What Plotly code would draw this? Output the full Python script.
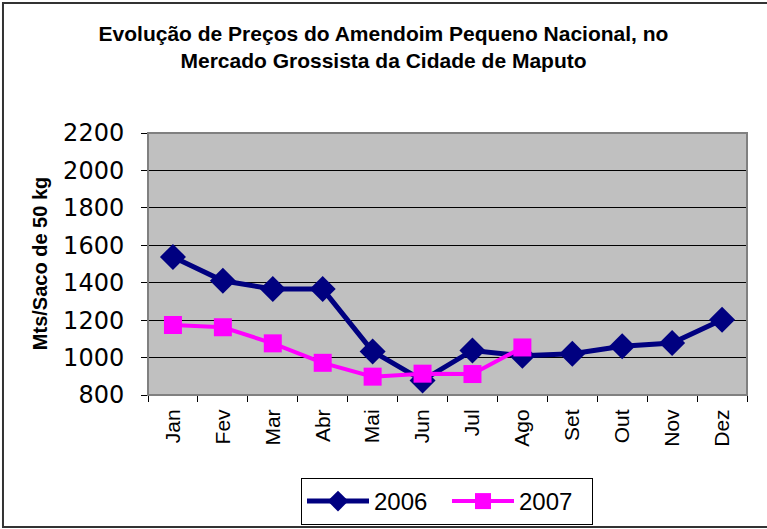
import plotly.graph_objects as go

MONTHS = ['Jan', 'Fev', 'Mar', 'Abr', 'Mai', 'Jun', 'Jul', 'Ago', 'Set', 'Out', 'Nov', 'Dez']
PRICES_2006 = [1538, 1410, 1366, 1366, 1033, 878, 1038, 1010, 1020, 1060, 1078, 1202]
PRICES_2007 = [1174, 1162, 1076, 972, 898, 914, 912, 1054]

NAVY = '#000080'
MAGENTA = '#FF00FF'
FONT = 'Liberation Sans, Arial, sans-serif'

fig = go.Figure()
fig.add_trace(go.Scatter(x=MONTHS, y=PRICES_2006, name='2006', mode='lines+markers',
                         line={'color': NAVY, 'width': 5},
                         marker={'symbol': 'diamond', 'size': 20, 'color': NAVY}))
fig.add_trace(go.Scatter(x=MONTHS[:len(PRICES_2007)], y=PRICES_2007, name='2007', mode='lines+markers',
                         line={'color': MAGENTA, 'width': 4},
                         marker={'symbol': 'square', 'size': 18, 'color': MAGENTA}))

fig.update_layout(
    width=767, height=529,
    margin={'l': 148, 'r': 20, 't': 133, 'b': 134},
    paper_bgcolor='white', plot_bgcolor='#C0C0C0',
    font={'family': FONT, 'color': 'black'},
    title={'text': 'Evolução de Preços do Amendoim Pequeno Nacional, no<br>Mercado Grossista da Cidade de Maputo',
           'x': 0.5, 'xref': 'container', 'xanchor': 'center',
           'y': 1 - 41 / 529, 'yref': 'container', 'yanchor': 'top',
           'font': {'size': 21, 'family': FONT, 'weight': 'bold'}},
    legend={'orientation': 'h', 'x': 447 / 767, 'xref': 'container', 'xanchor': 'center',
            'y': 51 / 529, 'yref': 'container', 'yanchor': 'top',
            'bordercolor': 'black', 'borderwidth': 1, 'font': {'size': 24},
            'itemwidth': 62, 'entrywidth': 68},
    showlegend=True,
)
fig.update_xaxes(range=[-0.5, 11.5], tickangle=-90, tickson='boundaries', ticks='outside', ticklen=6,
                 tickcolor='black', showline=True, linecolor='black', linewidth=1, mirror=False,
                 showgrid=False, tickfont={'size': 21}, ticklabelstandoff=5)
fig.update_yaxes(range=[800, 2200], dtick=200, ticks='outside', ticklen=6, tickcolor='black',
                 showline=True, linecolor='black', linewidth=1, gridcolor='black', gridwidth=1,
                 zeroline=False, tickfont={'size': 24, 'family': 'DejaVu Sans'}, ticklabelstandoff=12)

# plot area border (top/right) and outer chart border
fig.add_shape(type='rect', xref='paper', yref='paper', x0=0, x1=1, y0=0, y1=1,
              line={'color': '#808080', 'width': 2}, layer='above')
fig.add_shape(type='rect', xref='paper', yref='paper', x0=-0.2421, x1=1.04, y0=-0.504, y1=1.496,
              line={'color': '#333333', 'width': 2})
fig.add_annotation(text='<b>Mts/Saco de 50 kg</b>', textangle=-90, xref='paper', yref='paper',
                   x=-0.18, y=0.5, xanchor='center', yanchor='middle', showarrow=False, font={'size': 20})

fig.write_html('out.html', config={'displayModeBar': False},
               post_script="document.body.style.margin='0';")
